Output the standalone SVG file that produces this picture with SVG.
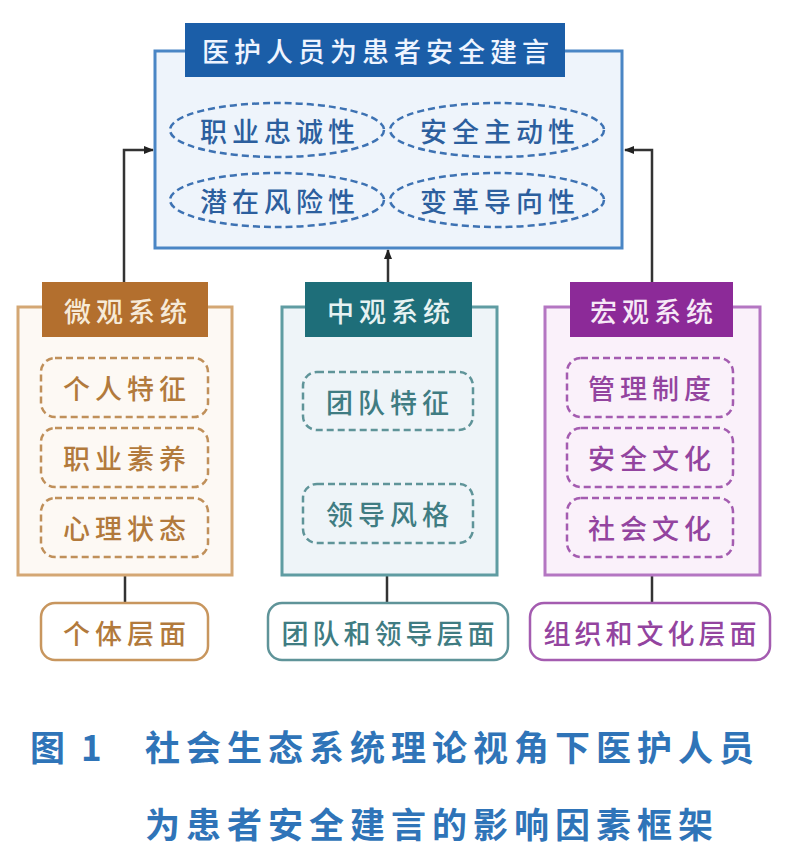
<svg xmlns="http://www.w3.org/2000/svg" width="800" height="858" viewBox="0 0 800 858">
<defs>
<marker id="ah" markerWidth="10" markerHeight="10" refX="9" refY="5" orient="auto" markerUnits="userSpaceOnUse">
<path d="M0,1 L10,5 L0,9 Z" fill="#222"/>
</marker>
<style>
text{font-family:"Noto Sans CJK SC","Noto Sans CJK JP",sans-serif;text-anchor:middle;dominant-baseline:central;font-size:27px;letter-spacing:5px;font-weight:500}
.tt{fill:#eef4ff;font-size:27px}
.bl{fill:#2c5f9e}
.br{fill:#b27a3c}
.te{fill:#3f7c82}
.pu{fill:#93449f}
.dash{stroke-dasharray:7 4;stroke-width:2.5}
.con{stroke:#333;stroke-width:2.5;fill:none}
.cap{fill:#2f74b8;font-weight:bold;font-size:35px;letter-spacing:6px;text-anchor:start}
</style>
</defs>
<rect width="800" height="858" fill="#ffffff"/>
<g id="connectors">
<path class="con" d="M124,282 V150 H153" marker-end="url(#ah)"/>
<path class="con" d="M652,282 V150 H625" marker-end="url(#ah)"/>
<path class="con" d="M388,282 V250" marker-end="url(#ah)"/>
<path class="con" d="M125,575 V603"/>
<path class="con" d="M387,575 V603"/>
<path class="con" d="M652,575 V603"/>
</g>
<g id="top">
<rect x="155" y="51" width="467" height="197" fill="#eef4fb" stroke="#4a86c5" stroke-width="3"/>
<rect x="185" y="23" width="380" height="54" fill="#1b5ea8"/>
<text class="tt" x="378" y="50">医护人员为患者安全建言</text>
<g id="e1"><ellipse class="dash" cx="277" cy="130" rx="107" ry="27" fill="none" stroke="#3d72b3"/><text class="bl" x="280" y="130">职业忠诚性</text></g>
<g id="e2"><ellipse class="dash" cx="497" cy="130" rx="107" ry="27" fill="none" stroke="#3d72b3"/><text class="bl" x="500" y="130">安全主动性</text></g>
<g id="e3"><ellipse class="dash" cx="277" cy="200" rx="107" ry="27" fill="none" stroke="#3d72b3"/><text class="bl" x="280" y="200">潜在风险性</text></g>
<g id="e4"><ellipse class="dash" cx="497" cy="200" rx="107" ry="27" fill="none" stroke="#3d72b3"/><text class="bl" x="500" y="200">变革导向性</text></g>
</g>
<g id="micro">
<rect x="18" y="307" width="214" height="268" fill="#fdf9f4" stroke="#d4a774" stroke-width="3"/>
<rect x="42" y="282" width="166" height="55" fill="#b36f2e"/>
<text class="tt" x="128" y="310" style="fill:#f6ead8">微观系统</text>
<rect class="dash" x="41" y="358" width="167" height="59" rx="14" fill="none" stroke="#c0905a"/>
<text class="br" x="127" y="387">个人特征</text>
<rect class="dash" x="41" y="428" width="167" height="59" rx="14" fill="none" stroke="#c0905a"/>
<text class="br" x="127" y="457">职业素养</text>
<rect class="dash" x="41" y="498" width="167" height="59" rx="14" fill="none" stroke="#c0905a"/>
<text class="br" x="127" y="527">心理状态</text>
</g>
<g id="micro-level">
<rect x="41" y="603" width="167" height="57" rx="14" fill="#ffffff" stroke="#c8965e" stroke-width="2.5"/>
<text class="br" x="127" y="632">个体层面</text>
</g>
<g id="meso">
<rect x="282" y="307" width="215" height="268" fill="#eef4f8" stroke="#5f9ca2" stroke-width="3"/>
<rect x="305" y="282" width="167" height="55" fill="#1e6e79"/>
<text class="tt" x="391" y="310" style="fill:#e6f2f2">中观系统</text>
<rect class="dash" x="303" y="372" width="170" height="58" rx="14" fill="none" stroke="#5f9499"/>
<text class="te" x="390" y="401">团队特征</text>
<rect class="dash" x="303" y="484" width="170" height="59" rx="14" fill="none" stroke="#5f9499"/>
<text class="te" x="390" y="513">领导风格</text>
</g>
<g id="meso-level">
<rect x="268" y="603" width="240" height="57" rx="14" fill="#ffffff" stroke="#5f9499" stroke-width="2.5"/>
<text class="te" x="390" y="632" style="letter-spacing:4px">团队和领导层面</text>
</g>
<g id="macro">
<rect x="545" y="307" width="215" height="268" fill="#faf1fa" stroke="#b476c2" stroke-width="3"/>
<rect x="570" y="282" width="163" height="55" fill="#8c2a98"/>
<text class="tt" x="654" y="310" style="fill:#f6e8f6">宏观系统</text>
<rect class="dash" x="567" y="358" width="166" height="59" rx="14" fill="none" stroke="#a45cb0"/>
<text class="pu" x="652" y="387">管理制度</text>
<rect class="dash" x="567" y="428" width="166" height="59" rx="14" fill="none" stroke="#a45cb0"/>
<text class="pu" x="652" y="457">安全文化</text>
<rect class="dash" x="567" y="498" width="166" height="59" rx="14" fill="none" stroke="#a45cb0"/>
<text class="pu" x="652" y="527">社会文化</text>
</g>
<g id="macro-level">
<rect x="530" y="603" width="240" height="57" rx="14" fill="#ffffff" stroke="#a45cb0" stroke-width="2.5"/>
<text class="pu" x="652" y="632" style="letter-spacing:4px">组织和文化层面</text>
</g>
<g id="caption">
<text class="cap" x="30" y="745" style="letter-spacing:4px">图 1</text>
<text class="cap" x="145" y="745">社会生态系统理论视角下医护人员</text>
<text class="cap" x="145" y="822">为患者安全建言的影响因素框架</text>
</g>
</svg>
